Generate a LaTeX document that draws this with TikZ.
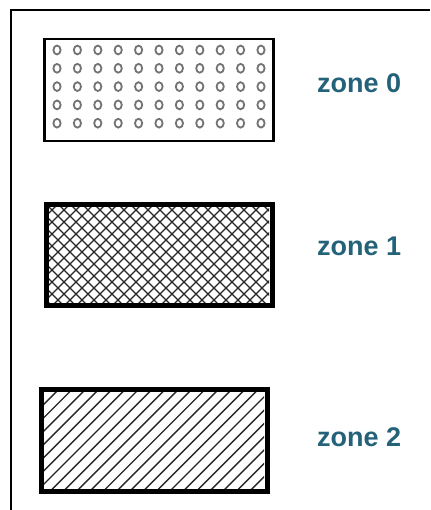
\documentclass[tikz,border=0pt]{standalone}
\usepackage{fontspec}
\setmainfont{Liberation Sans}
\definecolor{zonetext}{HTML}{24627A}
\begin{document}
\begin{tikzpicture}[x=1pt,y=-1pt,
  zonebox/.style={draw=black,line width=#1},
  zonelabel/.style={anchor=base west,inner sep=0pt,text=zonetext,font=\fontsize{27}{30}\selectfont\bfseries},
  dotmark/.style={draw=black!55,line width=1.8pt},
  hatchline/.style={line width=1.4pt,black!85}]
\useasboundingbox (0,0) rectangle (430,510);
\fill[white] (0,0) rectangle (430,510);
% frame (top and left only)
\draw[line width=1.5pt] (430,10) -- (11,10) -- (11,510);

% zone 0
\foreach \i in {0,...,10}{
  \foreach \j in {0,...,4}{
    \draw[dotmark] ({57+20.4*\i},{50+18.3*\j}) ellipse (3.6pt and 4.4pt);
  }
}
\node[zonebox=2.5pt,minimum width=229pt,minimum height=102pt,anchor=north west,inner sep=0pt] (z0) at (43,38) {};
\node[zonelabel] (l0) at (317,93) {zone 0};

% zone 1
\begin{scope}
\clip (45,203) rectangle (269,302);
\foreach \k in {-20,...,40}{
  \draw[hatchline] ({43+12*\k},201) -- ++(103,103);
  \draw[hatchline] ({43+12*\k+6},201) -- ++(-103,103);
}
\end{scope}
\node[zonebox=5pt,minimum width=226pt,minimum height=101pt,anchor=north west,inner sep=0pt] (z1) at (44,202) {};
\node[zonelabel] (l1) at (317,255) {zone 1};

% zone 2
\begin{scope}
\clip (40,388) rectangle (264,488);
\foreach \k in {-12,...,24}{
  \draw[hatchline] ({38+13.3*\k},490) -- ++(104,-104);
}
\end{scope}
\node[zonebox=5pt,minimum width=226pt,minimum height=102pt,anchor=north west,inner sep=0pt] (z2) at (39,387) {};
\node[zonelabel] (l2) at (317,446) {zone 2};
\end{tikzpicture}
\end{document}
